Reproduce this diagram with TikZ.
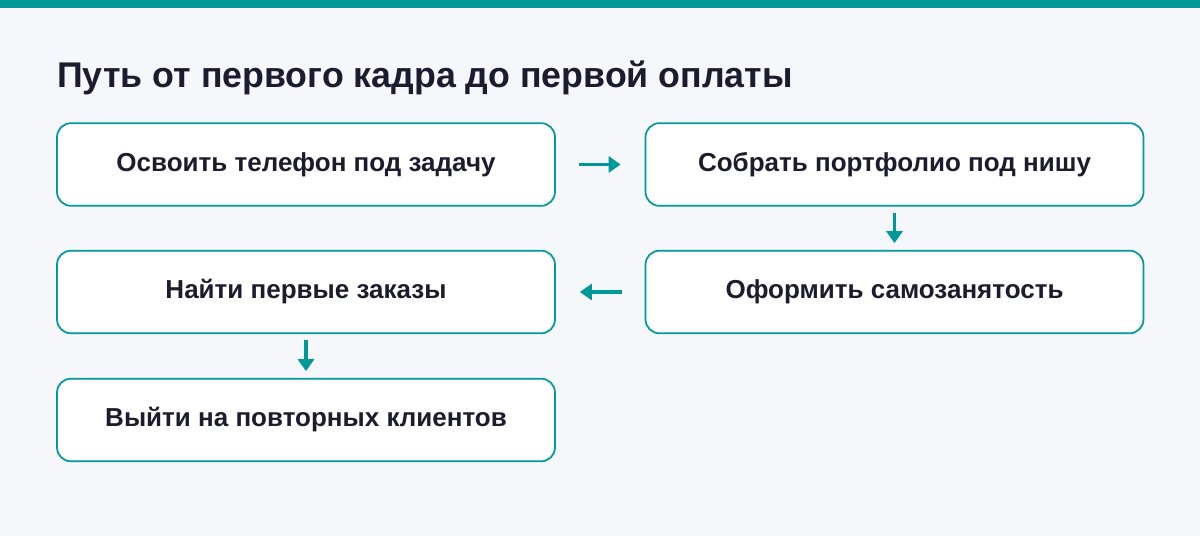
\documentclass[tikz,border=0pt]{standalone}
\usepackage{fontspec}
\setmainfont{Liberation Sans}
\usetikzlibrary{arrows.meta}
\definecolor{teal1}{HTML}{00999A}
\definecolor{bg}{HTML}{F5F7FB}
\definecolor{ink}{HTML}{1C1C2E}
\begin{document}
\begin{tikzpicture}[x=0.75pt,y=-0.75pt,
  box/.style={draw=teal1,line width=1.3pt,fill=white,rounded corners=10.5pt,minimum width=373.5pt,minimum height=62pt,inner sep=0pt,text=ink,font=\fontsize{19.5}{23}\selectfont\bfseries},
  arr/.style={draw=teal1,line width=2.6pt,-{Triangle[length=9pt,width=12pt]}}]
\fill[bg] (0,0) rectangle (1200,536);
\useasboundingbox (0,0) rectangle (1200,536);
\fill[teal1] (0,0) rectangle (1200,8);
\node[anchor=west,inner sep=0pt,text=ink,font=\fontsize{26.8}{31}\selectfont\bfseries] (title) at (57,78) {Путь от первого кадра до первой оплаты};
\node[box] (b1) at (306,164.5) {Освоить телефон под задачу};
\node[box] (b2) at (894.5,164.5) {Собрать портфолио под нишу};
\node[box] (b4) at (894.5,292) {Оформить самозанятость};
\node[box] (b3) at (306,292) {Найти первые заказы};
\node[box] (b5) at (306,420) {Выйти на повторных клиентов};
\draw[arr,shorten <=17pt,shorten >=18pt] (b1.east) -- (b2.west);
\draw[arr,shorten <=4.5pt,shorten >=5pt] (b2.south) -- (b4.north);
\draw[arr,shorten <=17pt,shorten >=18pt] (b4.west) -- (b3.east);
\draw[arr,shorten <=4.5pt,shorten >=5pt] (b3.south) -- (b5.north);
\end{tikzpicture}
\end{document}
